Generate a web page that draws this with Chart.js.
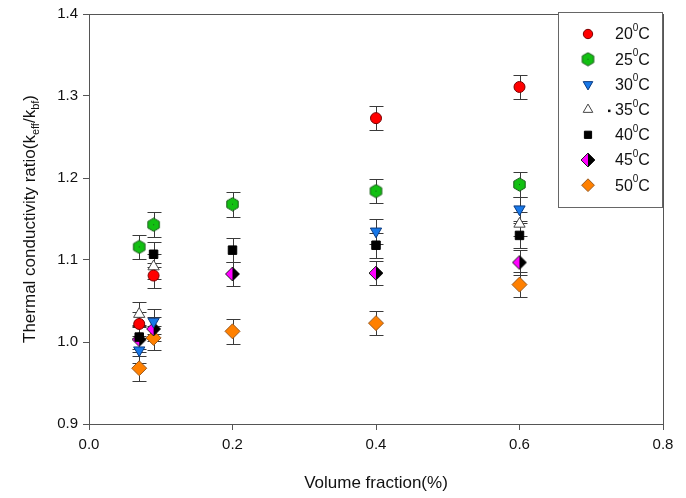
<!DOCTYPE html>
<html>
<head>
<meta charset="utf-8">
<script src="https://cdn.jsdelivr.net/npm/chart.js@4"></script>
<style>
  html, body { margin: 0; padding: 0; background: #fff; }
  #wrap { width: 686px; height: 498px; }
</style>
</head>
<body>
<div id="wrap"><canvas id="chart" width="686" height="498"></canvas></div>
<script>
// temperatures (legend), x positions and ratio values
const temps = ["20", "25", "30", "35", "40", "45", "50"];

const x20 = [0.07, 0.09, 0.4, 0.6];
const y20 = [1.022, 1.081, 1.273, 1.311];
const x25 = [0.07, 0.09, 0.2, 0.4, 0.6];
const y25 = [1.116, 1.143, 1.168, 1.184, 1.192];
const x30 = [0.07, 0.09, 0.4, 0.6];
const y30 = [0.990, 1.025, 1.135, 1.162];
const x35 = [0.07, 0.09, 0.6];
const y35 = [1.034, 1.092, 1.144];
const x40 = [0.07, 0.09, 0.2, 0.4, 0.6];
const y40 = [1.006, 1.107, 1.112, 1.118, 1.130];
const x45 = [0.07, 0.09, 0.2, 0.4, 0.6];
const y45 = [1.003, 1.016, 1.083, 1.084, 1.097];
const x50 = [0.07, 0.09, 0.2, 0.4, 0.6];
const y50 = [0.968, 1.005, 1.013, 1.023, 1.070];

// error bar half-width (same for every point)
const errBar = 0.015;

const xTicks = [0, 0.2, 0.4, 0.6, 0.8];
const yTicks = [0.9, 1.0, 1.1, 1.2, 1.3, 1.4];

const FONT = "'Liberation Sans', Arial, sans-serif";

// custom marker images
function hexagonImg() {
  const c = document.createElement("canvas");
  c.width = 15; c.height = 15;
  const g = c.getContext("2d");
  g.beginPath();
  for (let i = 0; i < 6; i++) {
    const a = Math.PI / 6 + i * Math.PI / 3;
    const px = 7.5 + 6.6 * Math.cos(a), py = 7.5 + 6.6 * Math.sin(a);
    if (i === 0) g.moveTo(px, py); else g.lineTo(px, py);
  }
  g.closePath();
  g.fillStyle = "#12c012";
  g.fill();
  g.strokeStyle = "#1a5a1a";
  g.lineWidth = 1;
  g.stroke();
  g.fillStyle = "#1a5a1a";
  g.fillRect(7, 7, 1, 1);
  return c;
}

function halfDiamondImg() {
  const c = document.createElement("canvas");
  c.width = 16; c.height = 16;
  const g = c.getContext("2d");
  g.beginPath();
  g.moveTo(8, 1); g.lineTo(1, 8); g.lineTo(8, 15); g.closePath();
  g.fillStyle = "#ff00ff"; g.fill();
  g.beginPath();
  g.moveTo(8, 1); g.lineTo(15, 8); g.lineTo(8, 15); g.closePath();
  g.fillStyle = "#000"; g.fill();
  g.beginPath();
  g.moveTo(8, 1); g.lineTo(15, 8); g.lineTo(8, 15); g.lineTo(1, 8); g.closePath();
  g.strokeStyle = "#222"; g.lineWidth = 1; g.stroke();
  return c;
}

const hexImg = hexagonImg();
const halfImg = halfDiamondImg();

function pts(xs, ys) {
  return xs.map((x, i) => ({ x: x, y: ys[i] }));
}

const datasets = [
  { label: temps[0], data: pts(x20, y20), pointStyle: "circle", pointRadius: 5.5, backgroundColor: "#ff0000", borderColor: "#7a0000" },
  { label: temps[1], data: pts(x25, y25), pointStyle: hexImg, pointRadius: 6, backgroundColor: "#12c012", borderColor: "#1a5a1a" },
  { label: temps[2], data: pts(x30, y30), pointStyle: "triangle", pointRotation: 180, pointRadius: 6.5, backgroundColor: "#1878e8", borderColor: "#0a3a80" },
  { label: temps[3], data: pts(x35, y35), pointStyle: "triangle", pointRadius: 6.5, backgroundColor: "#ffffff", borderColor: "#444444" },
  { label: temps[4], data: pts(x40, y40), pointStyle: "rect", pointRadius: 6, backgroundColor: "#000000", borderColor: "#000000" },
  { label: temps[5], data: pts(x45, y45), pointStyle: halfImg, pointRadius: 7, backgroundColor: "#ff00ff", borderColor: "#222" },
  { label: temps[6], data: pts(x50, y50), pointStyle: "rectRot", pointRadius: 7.5, backgroundColor: "#ff8000", borderColor: "#9a5a20" }
].map(d => Object.assign({ showLine: false, pointBorderWidth: 1, pointHoverRadius: d.pointRadius }, d));

// vertical error bars, drawn under the markers
const errorBars = {
  id: "errorBars",
  beforeDatasetsDraw(chart) {
    const { ctx, scales: { x, y } } = chart;
    ctx.save();
    ctx.strokeStyle = "#3a3a3a";
    ctx.lineWidth = 1;
    chart.data.datasets.forEach(ds => {
      ds.data.forEach(p => {
        const px = Math.round(x.getPixelForValue(p.x)) + 0.5;
        const top = Math.round(y.getPixelForValue(p.y + errBar)) + 0.5;
        const bot = Math.round(y.getPixelForValue(p.y - errBar)) + 0.5;
        ctx.beginPath();
        ctx.moveTo(px, top); ctx.lineTo(px, bot);
        ctx.moveTo(px - 7, top); ctx.lineTo(px + 7, top);
        ctx.moveTo(px - 7, bot); ctx.lineTo(px + 7, bot);
        ctx.stroke();
      });
    });
    ctx.restore();
  }
};

// draws "NN" + superscript "0" + "C"
function degLabel(ctx, t, x, y, size) {
  ctx.font = size + "px " + FONT;
  ctx.fillText(t, x, y);
  let w = ctx.measureText(t).width;
  ctx.font = Math.round(size * 0.62) + "px " + FONT;
  ctx.fillText("0", x + w, y - size * 0.42);
  w += ctx.measureText("0").width;
  ctx.font = size + "px " + FONT;
  ctx.fillText("C", x + w, y);
}

// frame, y title with subscripts, legend box
const extras = {
  id: "extras",
  afterDraw(chart) {
    const { ctx, chartArea: a } = chart;
    ctx.save();
    ctx.strokeStyle = "#555";
    ctx.lineWidth = 1;
    ctx.strokeRect(Math.round(a.left) + 0.5, Math.round(a.top) + 0.5, Math.round(a.right - a.left), Math.round(a.bottom - a.top));

    // y axis title
    ctx.fillStyle = "#111";
    ctx.textBaseline = "alphabetic";
    ctx.translate(35, 219);
    ctx.rotate(-Math.PI / 2);
    const big = "17px " + FONT, small = "11px " + FONT;
    const parts = [["Thermal conductivity ratio(k", big, 0], ["eff", small, 4], ["/k", big, 0], ["bf", small, 4], [")", big, 0]];
    let total = 0;
    parts.forEach(p => { ctx.font = p[1]; total += ctx.measureText(p[0]).width; });
    let cx = -total / 2;
    parts.forEach(p => {
      ctx.font = p[1];
      ctx.fillText(p[0], cx, p[2]);
      cx += ctx.measureText(p[0]).width;
    });
    ctx.setTransform(1, 0, 0, 1, 0, 0);

    // legend
    const lx = 558.5, ly = 12.5, lw = 104, lh = 195;
    ctx.fillStyle = "#fff";
    ctx.fillRect(lx, ly, lw, lh);
    ctx.strokeStyle = "#666";
    ctx.strokeRect(lx, ly, lw, lh);
    chart.data.datasets.forEach((ds, i) => {
      const cy = 34 + i * 25.2;
      const mx = 588;
      ctx.fillStyle = ds.backgroundColor;
      ctx.strokeStyle = ds.borderColor;
      ctx.lineWidth = 1;
      Chart.helpers.drawPoint(ctx, {
        pointStyle: ds.pointStyle,
        radius: ds.pointRadius * 0.85,
        rotation: ds.pointRotation || 0,
        borderWidth: 1
      }, mx, cy);
      ctx.fillStyle = "#111";
      ctx.textBaseline = "middle";
      degLabel(ctx, ds.label, 615, cy + 1, 16);
      if (ds.label === "35") ctx.fillRect(608, cy, 2.5, 2.5);
    });
    ctx.restore();
  }
};

new Chart(document.getElementById("chart"), {
  type: "scatter",
  data: { datasets: datasets },
  plugins: [errorBars, extras],
  options: {
    responsive: false,
    animation: false,
    layout: { padding: { top: 13, right: 23, left: 0, bottom: 0 } },
    plugins: { legend: { display: false }, tooltip: { enabled: false } },
    scales: {
      x: {
        type: "linear",
        min: 0,
        max: 0.8,
        afterBuildTicks: s => { s.ticks = xTicks.map(v => ({ value: v })); },
        afterFit: s => { s.height = 74; },
        ticks: {
          color: "#111",
          font: { family: FONT, size: 15 },
          padding: 6,
          callback: v => v.toFixed(1)
        },
        grid: { drawOnChartArea: false, tickLength: 6, tickColor: "#555" },
        border: { color: "#555" },
        title: { display: true, text: "Volume fraction(%)", color: "#111", font: { family: FONT, size: 17 }, padding: { top: 17 } }
      },
      y: {
        type: "linear",
        min: 0.9,
        max: 1.4,
        afterBuildTicks: s => { s.ticks = yTicks.map(v => ({ value: v })); },
        afterFit: s => { s.width = 89; },
        ticks: {
          color: "#111",
          font: { family: FONT, size: 15 },
          padding: 5,
          callback: v => v.toFixed(1)
        },
        grid: { drawOnChartArea: false, tickLength: 6, tickColor: "#555" },
        border: { color: "#555" }
      }
    }
  }
});
</script>
</body>
</html>
